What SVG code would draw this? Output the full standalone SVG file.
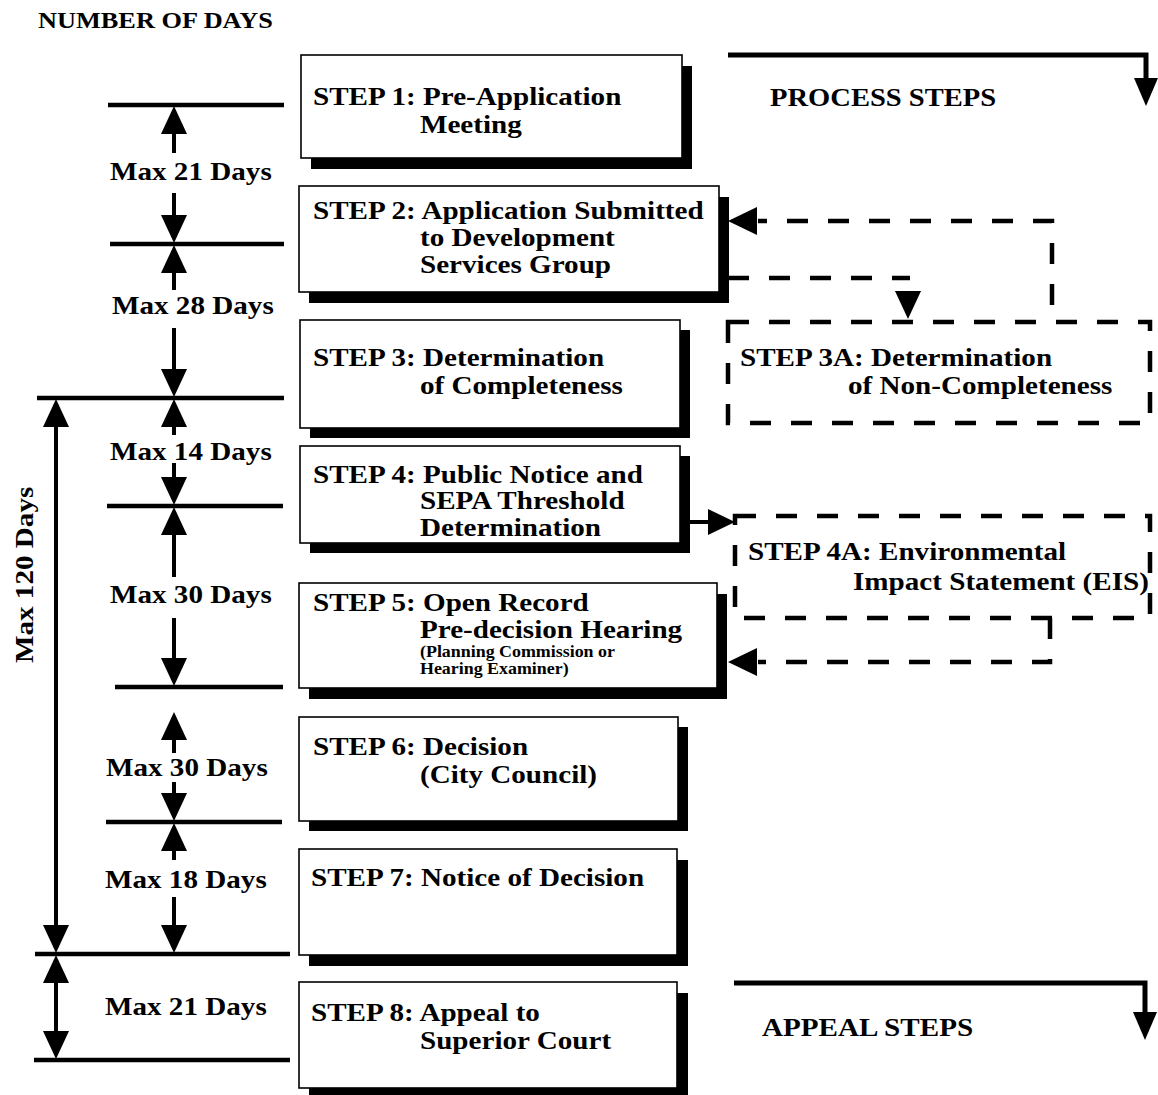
<svg xmlns="http://www.w3.org/2000/svg" width="1158" height="1095" viewBox="0 0 1158 1095">
<style>
text{font-family:"Liberation Serif","Times New Roman",serif;font-weight:bold;fill:#000}
.s{font-size:26px}
.sm{font-size:16px}
.box{fill:#fff;stroke:#000;stroke-width:1.6}
.shadow{fill:#000}
.tick{stroke:#000;stroke-width:4.5;fill:none}
.shaft{stroke:#000;stroke-width:4;fill:none}
.bold{stroke:#000;stroke-width:5;fill:none}
.dash{stroke:#000;stroke-width:4.5;fill:none;stroke-dasharray:21 20}
.head{fill:#000}
</style>
<defs>
<path id="up" class="head" d="M0,0 L-13,28 L13,28 Z"/>
<path id="dn" class="head" d="M0,0 L-13,-28 L13,-28 Z"/>
<path id="lf" class="head" d="M0,0 L29,-14 L29,14 Z"/>
<path id="rt" class="head" d="M0,0 L-27,-13 L-27,13 Z"/>
<path id="dnr" class="head" d="M0,0 L-12,-28 L12,-28 Z"/>
</defs>
<rect width="1158" height="1095" fill="#fff"/>

<g id="headings">
<text style="font-size:23.5px" transform="translate(38,28) scale(1.12,1)">NUMBER OF DAYS</text>
<text style="font-size:25.5px" transform="translate(770,106) scale(1.12,1)">PROCESS STEPS</text>
<text class="s" transform="translate(762,1036) scale(1.12,1)">APPEAL STEPS</text>
</g>

<g id="connectors">
<g id="ticks">
<line class="tick" x1="108" y1="105" x2="284" y2="105"/>
<line class="tick" x1="110" y1="244" x2="284" y2="244"/>
<line class="tick" x1="37" y1="398" x2="284" y2="398"/>
<line class="tick" x1="107" y1="506" x2="283" y2="506"/>
<line class="tick" x1="115" y1="687" x2="283" y2="687"/>
<line class="tick" x1="106" y1="822" x2="282" y2="822"/>
<line class="tick" x1="35" y1="954" x2="290" y2="954"/>
<line class="tick" x1="34" y1="1060" x2="290" y2="1060"/>
</g>
<g id="day-arrows">
<path class="shaft" d="M174,130V153M174,193V220M174,268V290M174,328V372M174,423V435M174,463V482M174,531V577M174,618V660M174,736V753M174,782V796M174,848V860M174,897V927M56,425V928M56,981V1034"/>
<use href="#up" x="174" y="106"/><use href="#dn" x="174" y="243"/>
<use href="#up" x="174" y="245"/><use href="#dn" x="174" y="397"/>
<use href="#up" x="174" y="399"/><use href="#dn" x="174" y="505"/>
<use href="#up" x="174" y="507"/><use href="#dn" x="174" y="686"/>
<use href="#up" x="174" y="712"/><use href="#dn" x="174" y="821"/>
<use href="#up" x="174" y="823"/><use href="#dn" x="174" y="953"/>
<use href="#up" x="56" y="399"/><use href="#dn" x="56" y="953"/>
<use href="#up" x="56" y="955"/><use href="#dn" x="56" y="1059"/>
</g>
<g id="flow-arrows">
<path class="bold" d="M728,55H1146V80"/>
<use href="#dnr" x="1146" y="106"/>
<path class="bold" d="M734,983H1145V1014"/>
<use href="#dnr" x="1145" y="1040"/>
</g>
<g id="dashed-links">
<path class="dash" d="M1052,305V221H758"/>
<use href="#lf" x="728" y="221"/>
<path class="dash" d="M728,278H910"/>
<use href="#dn" x="908" y="319"/>
<path class="shaft" d="M688,522H710"/>
<use href="#rt" x="735" y="522"/>
<path class="dash" d="M1050,618V662H758"/>
<use href="#lf" x="728" y="662"/>
</g>
<g id="day-labels">
<text class="s" transform="translate(110,180) scale(1.12,1)">Max 21 Days</text>
<text class="s" transform="translate(112,314) scale(1.12,1)">Max 28 Days</text>
<text class="s" transform="translate(110,460) scale(1.12,1)">Max 14 Days</text>
<text class="s" transform="translate(110,603) scale(1.12,1)">Max 30 Days</text>
<text class="s" transform="translate(106,776) scale(1.12,1)">Max 30 Days</text>
<text class="s" transform="translate(105,888) scale(1.12,1)">Max 18 Days</text>
<text class="s" transform="translate(105,1015) scale(1.12,1)">Max 21 Days</text>
<text class="s" transform="translate(33,663) rotate(-90) scale(1.12,1)">Max 120 Days</text>
</g>
</g>

<g id="step1">
<rect class="shadow" x="311" y="66" width="381" height="103"/>
<rect class="box" x="301" y="55" width="381" height="103"/>
<text class="s" transform="translate(313,105) scale(1.12,1)"><tspan x="0" y="0">STEP 1: Pre-Application</tspan><tspan x="95.5" y="28">Meeting</tspan></text>
</g>
<g id="step2">
<rect class="shadow" x="309" y="197" width="420" height="106"/>
<rect class="box" x="299" y="186" width="420" height="106"/>
<text class="s" transform="translate(313,219) scale(1.12,1)"><tspan x="0" y="0">STEP 2: Application Submitted</tspan><tspan x="95.5" y="27">to Development</tspan><tspan x="95.5" y="54">Services Group</tspan></text>
</g>
<g id="step3">
<rect class="shadow" x="310" y="330" width="380" height="108"/>
<rect class="box" x="300" y="320" width="380" height="108"/>
<text class="s" transform="translate(313,366) scale(1.12,1)"><tspan x="0" y="0">STEP 3: Determination</tspan><tspan x="95.5" y="28">of Completeness</tspan></text>
</g>
<g id="step3a">
<rect class="dash" x="728" y="322" width="422" height="101"/>
<text class="s" transform="translate(740,366) scale(1.12,1)"><tspan x="0" y="0">STEP 3A: Determination</tspan><tspan x="96.4" y="28">of Non-Completeness</tspan></text>
</g>
<g id="step4">
<rect class="shadow" x="310" y="456" width="380" height="97"/>
<rect class="box" x="300" y="446" width="380" height="97"/>
<text class="s" transform="translate(313,483) scale(1.12,1)"><tspan x="0" y="0">STEP 4: Public Notice and</tspan><tspan x="95.5" y="26.5">SEPA Threshold</tspan><tspan x="95.5" y="53">Determination</tspan></text>
</g>
<g id="step4a">
<rect class="dash" x="735" y="516" width="415" height="102"/>
<text class="s" transform="translate(748,560) scale(1.12,1)">STEP 4A: Environmental</text>
<text class="s" transform="translate(853,590) scale(1.12,1)">Impact Statement (EIS)</text>
</g>
<g id="step5">
<rect class="shadow" x="309" y="594" width="418" height="105"/>
<rect class="box" x="299" y="583" width="418" height="105"/>
<text class="s" transform="translate(313,611) scale(1.12,1)"><tspan x="0" y="0">STEP 5: Open Record</tspan><tspan x="95.5" y="27">Pre-decision Hearing</tspan></text>
<text class="sm" transform="translate(420,657) scale(1.12,1)"><tspan x="0" y="0">(Planning Commission or</tspan><tspan x="0" y="17">Hearing Examiner)</tspan></text>
</g>
<g id="step6">
<rect class="shadow" x="309" y="727" width="379" height="104"/>
<rect class="box" x="299" y="717" width="379" height="104"/>
<text class="s" transform="translate(313,755) scale(1.12,1)"><tspan x="0" y="0">STEP 6: Decision</tspan><tspan x="95.5" y="28">(City Council)</tspan></text>
</g>
<g id="step7">
<rect class="shadow" x="309" y="860" width="379" height="106"/>
<rect class="box" x="299" y="849" width="378" height="106"/>
<text class="s" transform="translate(311,886) scale(1.12,1)">STEP 7: Notice of Decision</text>
</g>
<g id="step8">
<rect class="shadow" x="309" y="993" width="379" height="106"/>
<rect class="box" x="299" y="982" width="378" height="106"/>
<text class="s" transform="translate(311,1021) scale(1.12,1)"><tspan x="0" y="0">STEP 8: Appeal to</tspan><tspan x="97.3" y="28">Superior Court</tspan></text>
</g>
</svg>
